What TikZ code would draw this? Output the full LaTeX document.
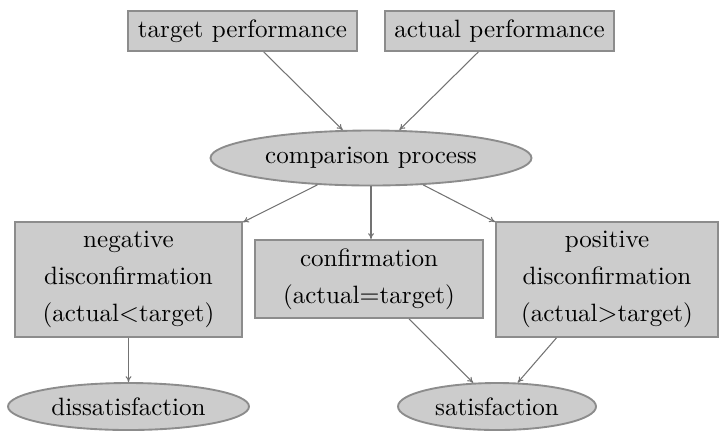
\documentclass[tikz,border=0pt]{standalone}
\usepackage{tikz}
\usetikzlibrary{shapes.geometric,arrows.meta}

\begin{document}
\begin{tikzpicture}[x=0.015cm, y=-0.015cm,
		font=\fontsize{10.7pt}{15.8pt}\selectfont,
		box/.style={draw=black!45, fill=black!20, line width=0.8pt, inner sep=0pt, align=center},
		oval/.style={ellipse, draw=black!45, fill=black!20, line width=0.8pt, inner sep=0pt},
		arr/.style={draw=black!55, line width=0.45pt, -{To[length=2.5pt,width=2.5pt]}}]
			%%%%% START %%%%%
			
			\useasboundingbox (0, 0) rectangle (719, 432);
			
			\node[box, minimum width=3.435cm, minimum height=0.6cm] (target) at (242.5, 31) {target performance};
			\node[box, minimum width=3.435cm, minimum height=0.6cm] (actual) at (499.5, 31) {actual performance};
			
			\node[oval, minimum width=4.815cm, minimum height=0.825cm] (compare) at (371, 158) {comparison process};
			
			\node[box, minimum width=3.405cm, minimum height=1.725cm] (negative) at (128.5, 279.5) {negative\\disconfirmation\\(actual$<$target)};
			\node[box, minimum width=3.42cm, minimum height=1.17cm] (confirm) at (369, 279) {confirmation\\(actual$=$target)};
			\node[box, minimum width=3.33cm, minimum height=1.725cm] (positive) at (607, 279.5) {positive\\disconfirmation\\(actual$>$target)};
			
			\node[oval, minimum width=3.615cm, minimum height=0.705cm] (dissat) at (128.5, 406.5) {dissatisfaction};
			\node[oval, minimum width=2.97cm, minimum height=0.705cm] (sat) at (497, 406.5) {satisfaction};
			
			\draw[arr] (target) -- (compare);
			\draw[arr] (actual) -- (compare);
			
			\draw[arr] (compare) -- (negative);
			\draw[arr] (compare.south) -- (compare.south |- confirm.north);
			\draw[arr] (compare) -- (positive);
			
			\draw[arr] (negative) -- (dissat);
			\draw[arr] (confirm) -- (sat);
			\draw[arr] (positive) -- (sat);
			
			%%%%% END %%%%%
		\end{tikzpicture}
\end{document}
